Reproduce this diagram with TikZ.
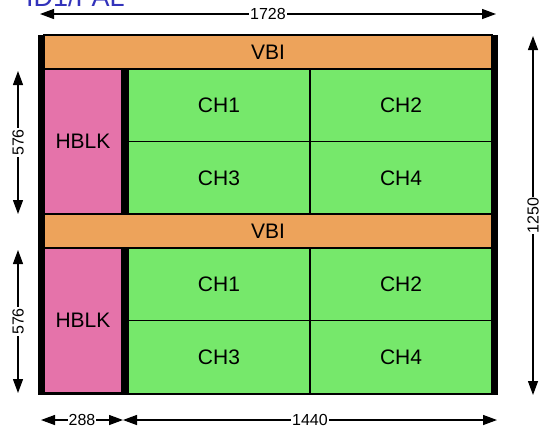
\documentclass[tikz,border=0pt]{standalone}
\usepackage{fontspec}
\setmainfont{Liberation Sans}
\usetikzlibrary{arrows.meta}
\definecolor{vbiorange}{RGB}{237,163,91}
\definecolor{hblkpink}{RGB}{229,115,170}
\definecolor{chgreen}{RGB}{118,232,107}
\definecolor{titleblue}{RGB}{51,51,187}
\begin{document}
\begin{tikzpicture}[x=1pt,y=-1pt,
  cell/.style={draw=black,line width=1.2pt,inner sep=0pt,font=\fontsize{21}{21}\selectfont},
  vbi/.style={cell,fill=vbiorange,minimum width=448pt,minimum height=34pt},
  hblk/.style={cell,fill=hblkpink,minimum width=78pt,minimum height=145pt},
  chan/.style={cell,fill=chgreen,minimum width=182pt,minimum height=73pt},
  dim/.style={{Triangle[length=14pt,width=10pt]}-{Triangle[length=14pt,width=10pt]},line width=1.3pt},
  dimlabel/.style={fill=white,inner sep=1pt,font=\fontsize{16}{16}\selectfont}]
  \useasboundingbox (0,0) rectangle (543,432);
  % title, cut by the page edge
  \node[anchor=base west,inner sep=0pt,text=titleblue,font=\fontsize{27}{27}\selectfont] (title) at (26,6) {ID1/PAL};
  % frame
  \node[fill=black,inner sep=0pt,minimum width=460pt,minimum height=360pt] (frame) at (268,215) {};
  % upper field
  \node[vbi] (vbiA) at (268,52) {VBI};
  \node[hblk] (hblkA) at (83,141.5) {HBLK};
  \node[chan] (chA1) at (219,105.5) {CH1};
  \node[chan] (chA2) at (401,105.5) {CH2};
  \node[chan] (chA3) at (219,178) {CH3};
  \node[chan] (chA4) at (401,178) {CH4};
  % lower field
  \node[vbi] (vbiB) at (268,231) {VBI};
  \node[hblk] (hblkB) at (83,320.5) {HBLK};
  \node[chan] (chB1) at (219,284.5) {CH1};
  \node[chan] (chB2) at (401,284.5) {CH2};
  \node[chan] (chB3) at (219,357) {CH3};
  \node[chan] (chB4) at (401,357) {CH4};
  % dimensions
  \coordinate (topL) at (40,14);
  \coordinate (topR) at (496,14);
  \draw[dim] (topL) -- node[dimlabel] {1728} (topR);
  \coordinate (botL) at (41,420);
  \coordinate (botM) at (123,420);
  \coordinate (botR) at (497,420);
  \draw[dim] (botL) -- node[dimlabel] {288} (botM);
  \draw[dim] (botM) -- node[dimlabel] {1440} (botR);
  \coordinate (lftA) at (18,71);
  \coordinate (lftB) at (18,214);
  \coordinate (lftC) at (18,250);
  \coordinate (lftD) at (18,393);
  \draw[dim] (lftA) -- node[dimlabel,rotate=90] {576} (lftB);
  \draw[dim] (lftC) -- node[dimlabel,rotate=90] {576} (lftD);
  \coordinate (rgtT) at (533,36);
  \coordinate (rgtB) at (533,395);
  \draw[dim] (rgtT) -- node[dimlabel,rotate=90] {1250} (rgtB);
\end{tikzpicture}
\end{document}
